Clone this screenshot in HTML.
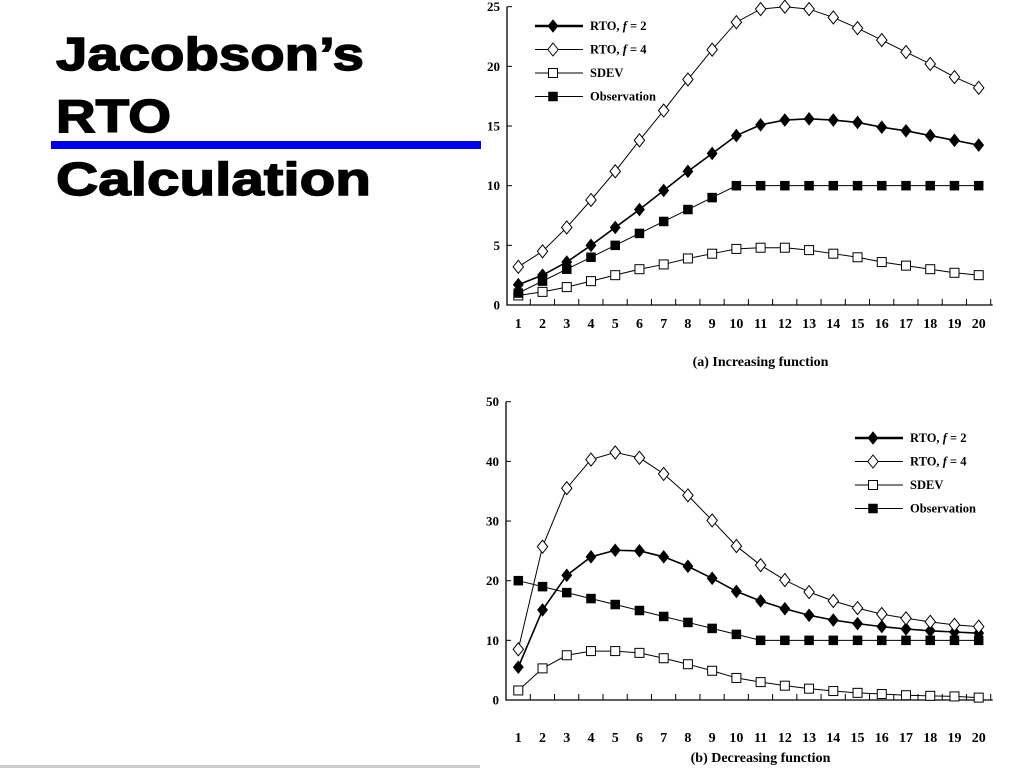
<!DOCTYPE html>
<html><head><meta charset="utf-8"><style>
html,body{margin:0;padding:0;background:#fff;width:1024px;height:768px;overflow:hidden}
svg{display:block}
text{font-family:"Liberation Serif",serif;font-weight:bold}
.t{font-family:"Liberation Sans",sans-serif;font-weight:900;stroke:#000;stroke-width:1.4}
</style></head><body>
<svg id="svg" width="1024" height="768" viewBox="0 0 1024 768">
<g>
<text class="t" x="56" y="70" font-size="46" textLength="308" lengthAdjust="spacingAndGlyphs">Jacobson’s</text>
<text class="t" x="56" y="132" font-size="46" textLength="115" lengthAdjust="spacingAndGlyphs">RTO</text>
<text class="t" x="56" y="195" font-size="46" textLength="315" lengthAdjust="spacingAndGlyphs">Calculation</text>
</g>
<rect x="51" y="141" width="430" height="8" fill="#0000ee"/>
<rect x="0" y="765" width="480" height="3" fill="#ccc"/>
<g id="chartA"></g>
<g id="chartB"></g>
</svg>
<script>
const categories=[1,2,3,4,5,6,7,8,9,10,11,12,13,14,15,16,17,18,19,20];
const seriesNames=["RTO, f = 2","RTO, f = 4","SDEV","Observation"];
const aF2=[1.7,2.5,3.6,5.0,6.5,8.0,9.6,11.2,12.7,14.2,15.1,15.5,15.6,15.5,15.3,14.9,14.6,14.2,13.8,13.4];
const aF4=[3.2,4.5,6.5,8.8,11.2,13.8,16.3,18.9,21.4,23.7,24.8,25.0,24.8,24.1,23.2,22.2,21.2,20.2,19.1,18.2];
const aSdev=[0.8,1.1,1.5,2.0,2.5,3.0,3.4,3.9,4.3,4.7,4.8,4.8,4.6,4.3,4.0,3.6,3.3,3.0,2.7,2.5];
const aObs=[1,2,3,4,5,6,7,8,9,10,10,10,10,10,10,10,10,10,10,10];
const aTicks=[0,5,10,15,20,25];
const bF2=[5.5,15.1,20.9,24.0,25.1,25.0,24.0,22.4,20.4,18.2,16.6,15.3,14.2,13.4,12.8,12.3,11.9,11.6,11.4,11.2];
const bF4=[8.5,25.7,35.5,40.3,41.5,40.6,37.9,34.3,30.1,25.8,22.6,20.1,18.1,16.6,15.4,14.4,13.7,13.1,12.6,12.3];
const bSdev=[1.6,5.3,7.5,8.2,8.2,7.9,7.0,6.0,4.9,3.7,3.0,2.4,1.9,1.5,1.2,1.0,0.8,0.7,0.6,0.4];
const bObs=[20,19,18,17,16,15,14,13,12,11,10,10,10,10,10,10,10,10,10,10];
const bTicks=[0,10,20,30,40,50];
const NS="http://www.w3.org/2000/svg";
function mk(tag,attrs,parent){const e=document.createElementNS(NS,tag);for(const k in attrs)e.setAttribute(k,attrs[k]);parent.appendChild(e);return e;}
function marker(g,kind,x,y){
  let e;
  if(kind===0||kind===1){const r=kind===0?6:6.5;e=mk('polygon',{points:`${x},${y-r} ${x+r*0.8},${y} ${x},${y+r} ${x-r*0.8},${y}`,fill:kind===0?'#000':'#fff',stroke:'#000','stroke-width':1},g);}
  else{const s=kind===2?9:8.5;e=mk('rect',{x:x-s/2,y:y-s/2,width:s,height:s,fill:kind===2?'#fff':'#000',stroke:'#000','stroke-width':1},g);}
  return e;
}
function chart(gid,series,ticks,ymax,y0,y1,xAxis,x1,x20,legX,legY,caption,capY,labY){
  const g=document.getElementById(gid);
  const X=i=>x1+(x20-x1)*(i)/(categories.length-1);
  const Y=v=>y0-(y0-y1)*v/ymax;
  const ax=mk('path',{d:`M${xAxis},${Y(ymax)} L${xAxis},${y0} L${x20+14},${y0}`,stroke:'#000','stroke-width':1.3,fill:'none'},g);
  
  
  ticks.forEach(t=>{
    const tl=mk('text',{x:xAxis-7,y:Y(t)+4.5,'font-size':13,'text-anchor':'end'},g);tl.textContent=t;
    
    
    const tk=mk('line',{x1:xAxis,x2:xAxis+5,y1:Y(t),y2:Y(t),stroke:'#000'},g);
    
    
  });
  categories.forEach((c,i)=>{
    const tk=mk('line',{x1:X(i)+12,x2:X(i)+12,y1:y0,y2:y0-6,stroke:'#000'},g);
    
    
    const tl=mk('text',{x:X(i),y:labY,'font-size':14,'text-anchor':'middle'},g);tl.textContent=c;
    
    
  });
  series.forEach((s,k)=>{
    const sg=mk('g',{},g);
    
    
    const pl=mk('polyline',{points:s.map((v,i)=>X(i)+','+Y(v)).join(' '),fill:'none',stroke:'#000','stroke-width':k===0?1.6:1},sg);
    
    
    s.forEach((v,i)=>{const m=marker(sg,k,X(i),Y(v));
      
      });
  });
  const lg=mk('g',{},g);
  
  
  seriesNames.forEach((n,k)=>{
    const y=legY+k*23.5;
    const ln=mk('line',{x1:legX,x2:legX+48,y1:y,y2:y,stroke:'#000','stroke-width':k===0?2.5:1},lg);
    
    
    marker(lg,k,legX+18,y);
    const t=mk('text',{x:legX+55,y:y+4,'font-size':12.5},lg);
    
    
    const p=n.split('f');
    if(p.length>1){t.appendChild(document.createTextNode(p[0]));const it=mk('tspan',{'font-style':'italic'},t);it.textContent='f';t.appendChild(document.createTextNode(p[1]));}
    else t.textContent=n;
  });
  const cap=mk('text',{x:(x1+x20)/2+12,y:capY,'font-size':14,'text-anchor':'middle'},g);cap.textContent=caption;
  
  
}
chart('chartA',[aF2,aF4,aSdev,aObs],aTicks,25,305,6.7,507,518.3,978.7,535,26,'(a) Increasing function',366,328);
chart('chartB',[bF2,bF4,bSdev,bObs],bTicks,50,700,401.7,506,518.3,978.7,855,438,'(b) Decreasing function',762,742);
</script>
</body></html>
